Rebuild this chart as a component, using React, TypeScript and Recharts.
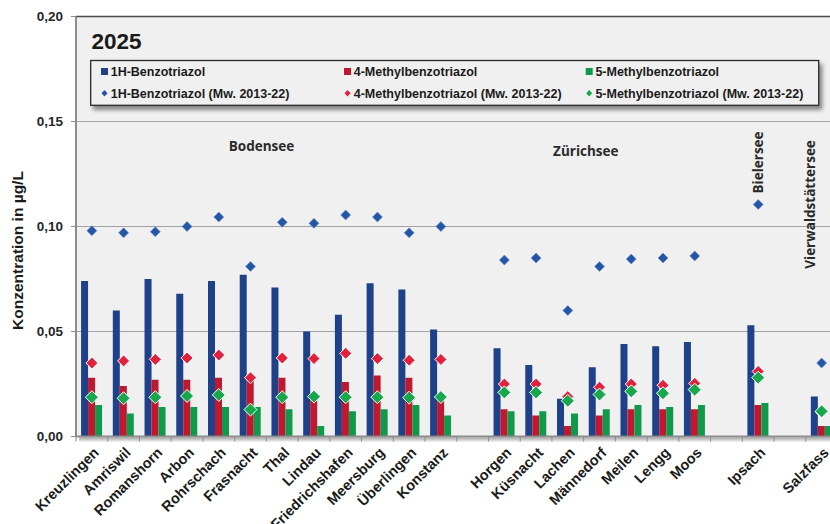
import React from "react";
import {
  ComposedChart,
  Bar,
  Line,
  XAxis,
  YAxis,
  CartesianGrid,
  ReferenceLine,
  ReferenceDot,
  ReferenceArea,
  Legend,
} from "recharts";

const categories = [
  "Kreuzlingen", "Amriswil", "Romanshorn", "Arbon", "Rohrschach", "Frasnacht",
  "Thal", "Lindau", "Friedrichshafen", "Meersburg", "Überlingen", "Konstanz",
  " ", "Horgen", "Küsnacht", "Lachen", "Männedorf", "Meilen", "Lengg", "Moos",
  "  ", "Ipsach", "   ", "Salzfass",
];

const benzo2025 = [0.074, 0.060, 0.075, 0.068, 0.074, 0.077, 0.071, 0.050, 0.058, 0.073, 0.070, 0.051, null, 0.042, 0.034, 0.018, 0.033, 0.044, 0.043, 0.045, null, 0.053, null, 0.019];
const methyl4_2025 = [0.028, 0.024, 0.027, 0.027, 0.028, 0.027, 0.028, 0.018, 0.026, 0.029, 0.028, 0.018, null, 0.013, 0.010, 0.005, 0.010, 0.013, 0.013, 0.013, null, 0.015, null, 0.005];
const methyl5_2025 = [0.015, 0.011, 0.014, 0.014, 0.014, 0.014, 0.013, 0.005, 0.012, 0.013, 0.015, 0.010, null, 0.012, 0.012, 0.011, 0.013, 0.015, 0.014, 0.015, null, 0.016, null, 0.005];
const benzoMw = [0.098, 0.097, 0.0975, 0.100, 0.1045, 0.081, 0.102, 0.1015, 0.1055, 0.1045, 0.097, 0.100, null, 0.084, 0.085, 0.060, 0.081, 0.0845, 0.085, 0.086, null, 0.1105, null, 0.035];
const methyl4Mw = [0.035, 0.036, 0.0367, 0.0374, 0.0388, 0.028, 0.0374, 0.0371, 0.0396, 0.0371, 0.0363, 0.0367, null, 0.025, 0.025, 0.019, 0.0235, 0.025, 0.0244, 0.0253, null, 0.031, null, 0.0115];
const methyl5Mw = [0.0187, 0.0182, 0.0187, 0.0193, 0.0198, 0.0128, 0.0187, 0.019, 0.0187, 0.0187, 0.0185, 0.0188, null, 0.021, 0.021, 0.017, 0.020, 0.0215, 0.0206, 0.0223, null, 0.028, null, 0.012];

const yTicks = [0, 0.05, 0.1, 0.15, 0.2];

const seriesNames = [
  "1H-Benzotriazol",
  "4-Methylbenzotriazol",
  "5-Methylbenzotriazol",
  "1H-Benzotriazol (Mw. 2013-22)",
  "4-Methylbenzotriazol (Mw. 2013-22)",
  "5-Methylbenzotriazol (Mw. 2013-22)",
];

const lakeLabels = [
  { text: "Bodensee", at: "Frasnacht", y: 0.1383, dx: 11, vertical: false },
  { text: "Zürichsee", at: "Lachen", y: 0.136, dx: 18, vertical: false },
  { text: "Bielersee", at: "Ipsach", y: 0.1305, dx: 0, vertical: true },
  { text: "Vierwaldstättersee", at: "Salzfass", y: 0.1105, dx: -12, vertical: true },
];

const data = categories.map((name, i) => ({
  name,
  b: benzo2025[i],
  m4: methyl4_2025[i],
  m5: methyl5_2025[i],
  bMw: benzoMw[i],
  m4Mw: methyl4Mw[i],
  m5Mw: methyl5Mw[i],
}));

const BLUE = "#1e4189";
const RED = "#c0182e";
const GREEN = "#0f9a4b";
const BLUE_D = "#2456a6";
const RED_D = "#e3213c";
const GREEN_D = "#18a84c";
const FONT = "'Liberation Sans', Arial, sans-serif";

const fmt = (v: number) => v.toFixed(2).replace(".", ",");

const diamond = (fill: string, h: number, stroke: string, sw: number) => (props: any) => {
  const { cx, cy, index } = props;
  if (cy == null || cx == null || isNaN(cy)) return <g key={`e${index}`} />;
  return (
    <polygon
      key={`d${index}`}
      points={`${cx},${cy - h} ${cx + h},${cy} ${cx},${cy + h} ${cx - h},${cy}`}
      fill={fill}
      stroke={stroke}
      strokeWidth={sw}
    />
  );
};

const XTick = (props: any) => {
  const { x, y, payload } = props;
  const half = payload && payload.offset != null ? payload.offset : 0;
  const bx = x - half;
  const tx = x + 8;
  const ty = y + 17;
  const label = String(payload?.value ?? "").trim();
  return (
    <g>
      <line x1={bx} y1={y} x2={bx} y2={y + 5} stroke="#8c8c8c" strokeWidth={1} />
      {label ? (
        <text
          x={tx}
          y={ty}
          transform={`rotate(-45 ${tx} ${ty})`}
          textAnchor="end"
          fontFamily={FONT}
          fontWeight="bold"
          fontSize={14.5}
          fill="#1a1a1a"
        >
          {label}
        </text>
      ) : null}
    </g>
  );
};

const LegendBox = () => {
  const cols = [101, 344, 585.7];
  const colors = [BLUE, RED, GREEN];
  const dcolors = [BLUE_D, RED_D, GREEN_D];
  return (
    <svg width={830} height={120} style={{ display: "block" }}>
      <defs>
        <filter id="lgShadow" x="-5%" y="-30%" width="110%" height="170%">
          <feDropShadow dx="3" dy="4" stdDeviation="2" floodColor="#000" floodOpacity="0.45" />
        </filter>
      </defs>
      <text x={91.5} y={49.3} fontFamily={FONT} fontWeight="bold" fontSize={22.5} fill="#1a1a1a">
        2025
      </text>
      <rect x={90.7} y={60.5} width={728} height={44.8} fill="#f0f0f0" stroke="#2a2a2a" strokeWidth={1.3} filter="url(#lgShadow)" />
      {cols.map((cx, i) => (
        <g key={i}>
          <rect x={cx} y={68} width={7} height={7} fill={colors[i]} />
          <text x={cx + 9.7} y={76} fontFamily={FONT} fontWeight="bold" fontSize={12.5} fill="#1a1a1a">
            {seriesNames[i]}
          </text>
          <polygon
            points={`${cx + 3.5},${90} ${cx + 6.5},${93.3} ${cx + 3.5},${96.6} ${cx + 0.5},${93.3}`}
            fill={dcolors[i]}
          />
          <text x={cx + 9.7} y={98} fontFamily={FONT} fontWeight="bold" fontSize={12.5} fill="#1a1a1a">
            {seriesNames[i + 3]}
          </text>
        </g>
      ))}
    </svg>
  );
};

const YLabel = (props: any) => {
  const vb = props.viewBox || { x: 0, y: 0, width: 0, height: 0 };
  const cx = vb.x + 17;
  const cy = vb.y + vb.height / 2 + 24;
  return (
    <text
      x={cx}
      y={cy}
      transform={`rotate(-90 ${cx} ${cy})`}
      textAnchor="middle"
      dominantBaseline="central"
      fontFamily={FONT}
      fontWeight="bold"
      fontSize={15.5}
      fill="#1a1a1a"
    >
      Konzentration in µg/L
    </text>
  );
};

const lakeLabelContent = (text: string, dx: number, vertical: boolean) => (props: any) => {
  const vb = props.viewBox || { x: 0, y: 0, width: 0, height: 0 };
  const cx = vb.x + (vb.width || 0) / 2 + dx;
  const cy = vb.y + (vb.height || 0) / 2;
  return (
    <text
      x={cx}
      y={cy}
      transform={vertical ? `rotate(-90 ${cx} ${cy})` : undefined}
      textAnchor="middle"
      dominantBaseline="central"
      fontFamily="'Open Sans', sans-serif"
      fontWeight={700}
      fontSize={13.5}
      fill="#2a2a2a"
    >
      {text}
    </text>
  );
};

const ShadowStrip = (p: any) => (
  <g>
    <defs>
      <linearGradient id="axShadow" x1="0" y1="0" x2="0" y2="1">
        <stop offset="0" stopColor="#000" stopOpacity={0.35} />
        <stop offset="1" stopColor="#000" stopOpacity={0} />
      </linearGradient>
    </defs>
    <rect x={p.x + 3} y={p.y + p.height + 1} width={p.width} height={5} fill="url(#axShadow)" />
  </g>
);

export default function App() {
  return (
    <div
      style={{
        position: "absolute",
        left: 0,
        top: 0,
        width: 830,
        height: 524,
        overflow: "hidden",
        background: "#ffffff",
      }}
    >
      <ComposedChart
        width={840}
        height={524}
        data={data}
        margin={{ top: 16.5, right: 2.5, bottom: 7.5, left: 0 }}
        barGap={0}
        barCategoryGap="16%"
      >
        <CartesianGrid vertical={false} fill="#f0f0f0" stroke="#a3a3a3" strokeWidth={1} />
        <ReferenceArea y1={0} y2={0.2} fill="none" stroke="none" shape={ShadowStrip} ifOverflow="visible" />
        <XAxis
          dataKey="name"
          type="category"
          interval={0}
          height={80}
          tickSize={0}
          tickMargin={0}
          tickLine={false}
          axisLine={{ stroke: "#8c8c8c", strokeWidth: 2 }}
          tick={<XTick />}
        />
        <YAxis
          width={76}
          domain={[0, 0.2]}
          ticks={yTicks}
          allowDataOverflow
          tickFormatter={fmt}
          tickSize={5}
          tickMargin={8}
          axisLine={{ stroke: "#8c8c8c", strokeWidth: 2 }}
          tickLine={{ stroke: "#8c8c8c" }}
          tick={{ fontFamily: FONT, fontWeight: "bold", fontSize: 13.5, fill: "#262626" }}
          label={{ content: YLabel }}
        />
        <ReferenceLine y={0.2} stroke="#4a4a4a" strokeWidth={1.3} />
        <Bar dataKey="b" name={seriesNames[0]} fill={BLUE} isAnimationActive={false} />
        <Bar dataKey="m4" name={seriesNames[1]} fill={RED} isAnimationActive={false} />
        <Bar dataKey="m5" name={seriesNames[2]} fill={GREEN} isAnimationActive={false} />
        <Line
          dataKey="bMw"
          name={seriesNames[3]}
          stroke="none"
          isAnimationActive={false}
          activeDot={false}
          dot={diamond(BLUE_D, 5, "#6f8fcf", 0.6)}
        />
        <Line
          dataKey="m4Mw"
          name={seriesNames[4]}
          stroke="none"
          isAnimationActive={false}
          activeDot={false}
          dot={diamond(RED_D, 6, "#ffffff", 1)}
        />
        <Line
          dataKey="m5Mw"
          name={seriesNames[5]}
          stroke="none"
          isAnimationActive={false}
          activeDot={false}
          dot={diamond(GREEN_D, 6.5, "#ffffff", 1)}
        />
        {lakeLabels.map((l) => (
          <ReferenceDot
            key={l.text}
            x={l.at}
            y={l.y}
            r={1}
            fill="none"
            stroke="none"
            ifOverflow="visible"
            label={{ content: lakeLabelContent(l.text, l.dx, l.vertical) }}
          />
        ))}
        <Legend
          layout="horizontal"
          verticalAlign="middle"
          align="center"
          wrapperStyle={{ position: "absolute", left: 0, top: 0, width: 830, height: 120, pointerEvents: "none" }}
          content={() => <LegendBox />}
        />
      </ComposedChart>
    </div>
  );
}
